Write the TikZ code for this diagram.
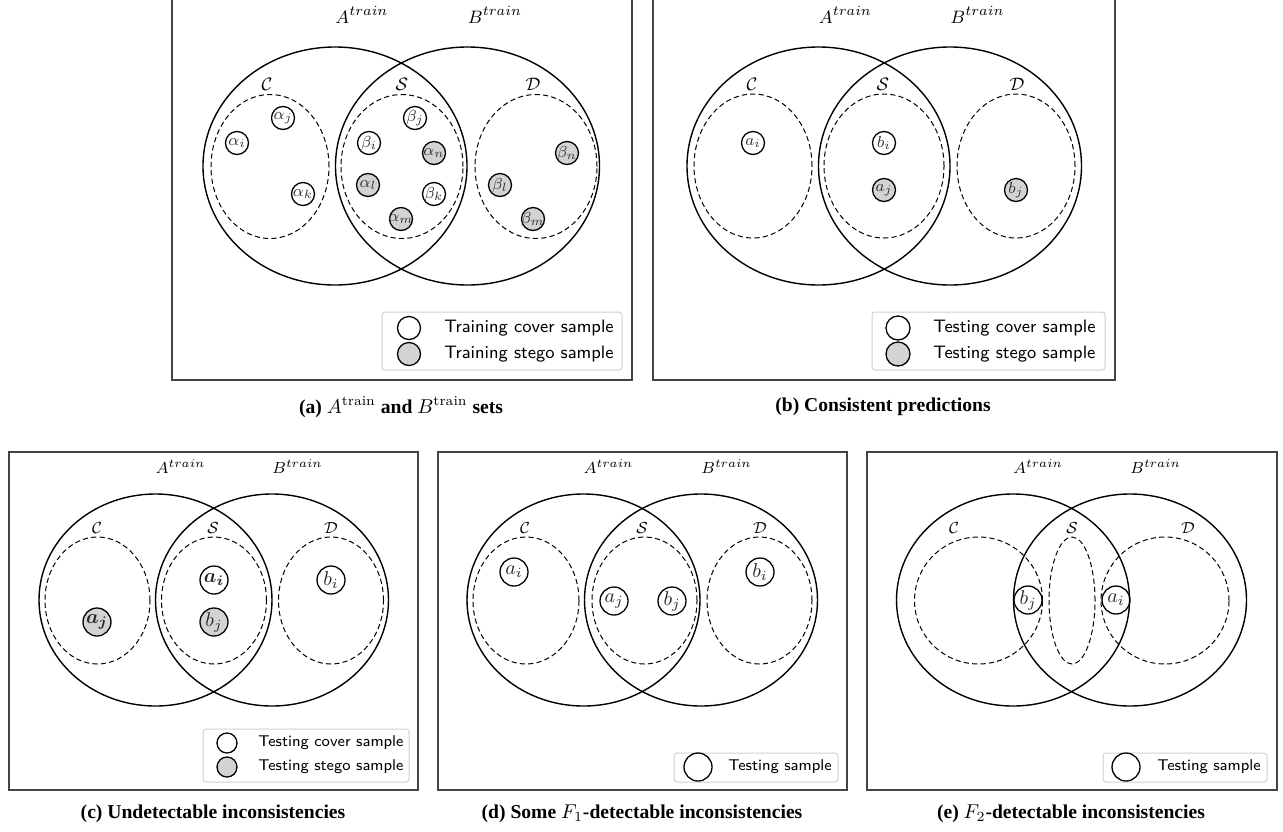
\documentclass[tikz,border=0pt]{standalone}
\usepackage{amsmath}
\usepackage{fontspec}
\newfontfamily\capfont{Liberation Serif}
\definecolor{stegogray}{HTML}{D3D3D3}
\definecolor{legbord}{HTML}{D0D0D0}
\definecolor{framegray}{HTML}{444444}
\begin{document}
\begin{tikzpicture}[x=0.5pt,y=-0.5pt,
  frame/.style={draw=framegray, line width=0.9pt},
  venn/.style={draw=black, line width=0.7pt},
  subset/.style={draw=black, line width=0.5pt, dash pattern=on 2.6pt off 1.6pt},
  samp/.style={circle, draw=black, line width=0.65pt, fill=white, minimum size=11.5pt, inner sep=0pt},
  sampB/.style={samp, minimum size=14pt},
  stego/.style={fill=stegogray},
  tlab/.style={label={[font=\fontsize{8.5}{9}\selectfont, text=black!80, inner sep=0pt]center:#1}},
  blab/.style={label={[font=\fontsize{10}{11}\selectfont, text=black!85, inner sep=0pt]center:#1}},
  setT/.style={font=\fontsize{9.3}{10}\selectfont, inner sep=0pt},
  setB/.style={font=\fontsize{8.3}{9}\selectfont, inner sep=0pt},
  legbox/.style={draw=legbord, line width=0.5pt, rounded corners=1.5pt, fill=white},
  legT/.style={font=\sffamily\fontsize{9.0}{11}\selectfont, anchor=west, inner sep=0pt},
  legB/.style={font=\sffamily\fontsize{7.8}{10}\selectfont, anchor=west, inner sep=0pt},
  legc/.style={circle, draw=black, line width=0.65pt, fill=white, inner sep=0pt},
  captext/.style={font=\capfont\bfseries\fontsize{9.8}{12}\selectfont, inner sep=0pt},
  capsup/.style={}
]
\path[use as bounding box] (0,0) rectangle (1283,831);
\clip (0,0) rectangle (1283,831);

% ================= Panel (a) =================
\draw[frame] (172,-10) rectangle (632,380);
\draw[venn] (335,166) ellipse [x radius=66pt, y radius=59.5pt];
\draw[venn] (467.5,166) ellipse [x radius=66pt, y radius=59.5pt];
\draw[subset] (270,166.5) ellipse [x radius=29.5pt, y radius=36pt];
\draw[subset] (402,166.5) ellipse [x radius=30.5pt, y radius=36pt];
\draw[subset] (536,166.5) ellipse [x radius=30.5pt, y radius=36pt];
\node[setT, anchor=base west] (aA) at (335,23) {$A^{train}$};
\node[setT, anchor=base west] (aB) at (467.5,23) {$B^{train}$};
\node[setT, anchor=base] (aC) at (267,90) {$\mathcal{C}$};
\node[setT, anchor=base] (aS) at (402,90) {$\mathcal{S}$};
\node[setT, anchor=base] (aD) at (533,90) {$\mathcal{D}$};
\node[samp, tlab={$\alpha_i$}] (a1) at (237,143) {};
\node[samp, tlab={$\alpha_j$}] (a2) at (283,118) {};
\node[samp, tlab={$\alpha_k$}] (a3) at (303,194) {};
\node[samp, tlab={$\beta_j$}] (a4) at (415,118) {};
\node[samp, tlab={$\beta_i$}] (a5) at (369,143) {};
\node[samp, stego, tlab={$\alpha_n$}] (a6) at (434,153) {};
\node[samp, stego, tlab={$\alpha_l$}] (a7) at (368,185) {};
\node[samp, tlab={$\beta_k$}] (a8) at (434,194) {};
\node[samp, stego, tlab={$\alpha_m$}] (a9) at (401,219) {};
\node[samp, stego, tlab={$\beta_n$}] (a10) at (567,153) {};
\node[samp, stego, tlab={$\beta_l$}] (a11) at (500,185) {};
\node[samp, stego, tlab={$\beta_m$}] (a12) at (533,219) {};
\draw[legbox] (382,312) rectangle (622,370);
\node[legc, minimum size=11.5pt] (aL1) at (409,328) {};
\node[legc, stego, minimum size=11.5pt] (aL2) at (409,354) {};
\node[legT] (aLt1) at (444,328) {Training cover sample};
\node[legT] (aLt2) at (444,354) {Training stego sample};
\node[captext] (capa) at (401,407) {(a) $A^{\mathrm{train}}$ and $B^{\mathrm{train}}$ sets};

% ================= Panel (b) =================
\draw[frame] (653,-10) rectangle (1115,380);
\draw[venn] (818.5,166) ellipse [x radius=65.75pt, y radius=59.5pt];
\draw[venn] (950,166) ellipse [x radius=65.75pt, y radius=59.5pt];
\draw[subset] (753,166) ellipse [x radius=29.5pt, y radius=36pt];
\draw[subset] (884,166) ellipse [x radius=30pt, y radius=36pt];
\draw[subset] (1016,166) ellipse [x radius=29.5pt, y radius=36pt];
\node[setT, anchor=base west] (bA) at (818.5,23) {$A^{train}$};
\node[setT, anchor=base west] (bB) at (950,23) {$B^{train}$};
\node[setT, anchor=base] (bC) at (752,90) {$\mathcal{C}$};
\node[setT, anchor=base] (bS) at (883,90) {$\mathcal{S}$};
\node[setT, anchor=base] (bD) at (1017,90) {$\mathcal{D}$};
\node[samp, tlab={$a_i$}] (b1) at (753,143) {};
\node[samp, tlab={$b_i$}] (b2) at (884,143) {};
\node[samp, stego, tlab={$a_j$}] (b3) at (884,190) {};
\node[samp, stego, tlab={$b_j$}] (b4) at (1016,190) {};
\draw[legbox] (872,312) rectangle (1105,370);
\node[legc, minimum size=12pt] (bL1) at (898,328) {};
\node[legc, stego, minimum size=12pt] (bL2) at (898,354) {};
\node[legT] (bLt1) at (933,328) {Testing cover sample};
\node[legT] (bLt2) at (933,354) {Testing stego sample};
\node[captext] (capb) at (883,407) {(b) Consistent predictions};

% ================= Panel (c) =================
\draw[frame] (9,452) rectangle (418,790);
\draw[venn] (155.5,600) ellipse [x radius=58.25pt, y radius=53pt];
\draw[venn] (272,600) ellipse [x radius=58.25pt, y radius=53pt];
\draw[subset] (97.5,600.5) ellipse [x radius=26.25pt, y radius=31.75pt];
\draw[subset] (214,600.5) ellipse [x radius=26.25pt, y radius=31.75pt];
\draw[subset] (331,600.5) ellipse [x radius=26.25pt, y radius=31.75pt];
\node[setB, anchor=base west] (cA) at (155.5,473) {$A^{train}$};
\node[setB, anchor=base west] (cB) at (272,473) {$B^{train}$};
\node[setB, anchor=base] (cC) at (97,533) {$\mathcal{C}$};
\node[setB, anchor=base] (cS) at (213,533) {$\mathcal{S}$};
\node[setB, anchor=base] (cD) at (331,533) {$\mathcal{D}$};
\node[sampB, stego, blab={$\boldsymbol{a_j}$}] (c1) at (97,622) {};
\node[sampB, blab={$\boldsymbol{a_i}$}] (c2) at (214,580) {};
\node[sampB, stego, blab={$b_j$}] (c3) at (214,622) {};
\node[sampB, blab={$b_i$}] (c4) at (331,580) {};
\draw[legbox] (203,729) rectangle (409,782);
\node[legc, minimum size=10pt] (cL1) at (227,743) {};
\node[legc, stego, minimum size=10pt] (cL2) at (227,767) {};
\node[legB] (cLt1) at (258,743) {Testing cover sample};
\node[legB] (cLt2) at (258,767) {Testing stego sample};
\node[captext] (capc) at (213,814) {(c) Undetectable inconsistencies};

% ================= Panel (d) =================
\draw[frame] (438,452) rectangle (847,790);
\draw[venn] (583.5,600) ellipse [x radius=58.25pt, y radius=53pt];
\draw[venn] (701,600) ellipse [x radius=58.25pt, y radius=53pt];
\draw[subset] (526,600.5) ellipse [x radius=26.5pt, y radius=31.75pt];
\draw[subset] (644.5,600.5) ellipse [x radius=26.25pt, y radius=31.75pt];
\draw[subset] (759.5,600.5) ellipse [x radius=26.25pt, y radius=31.75pt];
\node[setB, anchor=base west] (dA) at (583.5,473) {$A^{train}$};
\node[setB, anchor=base west] (dB) at (701,473) {$B^{train}$};
\node[setB, anchor=base] (dC) at (525,533) {$\mathcal{C}$};
\node[setB, anchor=base] (dS) at (642,533) {$\mathcal{S}$};
\node[setB, anchor=base] (dD) at (760,533) {$\mathcal{D}$};
\node[sampB, blab={$a_i$}] (d1) at (514,572) {};
\node[sampB, blab={$a_j$}] (d2) at (614,601) {};
\node[sampB, blab={$b_j$}] (d3) at (672,601) {};
\node[sampB, blab={$b_i$}] (d4) at (760,572) {};
\draw[legbox] (674,753) rectangle (838,782);
\node[legc, minimum size=14pt] (dL1) at (698,767) {};
\node[legB] (dLt1) at (728,767) {Testing sample};
\node[captext] (capd) at (642,814) {(d) Some $F_1$-detectable inconsistencies};

% ================= Panel (e) =================
\draw[frame] (867,452) rectangle (1277,790);
\draw[venn] (1013,600) ellipse [x radius=58.25pt, y radius=53pt];
\draw[venn] (1130,600) ellipse [x radius=58.25pt, y radius=53pt];
\draw[subset] (978.5,600.5) ellipse [x radius=32pt, y radius=31.75pt];
\draw[subset] (1072,600.5) ellipse [x radius=11.5pt, y radius=31.75pt];
\draw[subset] (1165,600.5) ellipse [x radius=32pt, y radius=31.75pt];
\node[setB, anchor=base west] (eA) at (1013,473) {$A^{train}$};
\node[setB, anchor=base west] (eB) at (1130,473) {$B^{train}$};
\node[setB, anchor=base] (eC) at (954,533) {$\mathcal{C}$};
\node[setB, anchor=base] (eS) at (1072,533) {$\mathcal{S}$};
\node[setB, anchor=base] (eD) at (1188,533) {$\mathcal{D}$};
\node[sampB, fill=none, blab={$b_j$}] (e1) at (1028,600) {};
\node[sampB, fill=none, blab={$a_i$}] (e2) at (1116,600) {};
\draw[legbox] (1103,753) rectangle (1267,782);
\node[legc, minimum size=14pt] (eL1) at (1126,767) {};
\node[legB] (eLt1) at (1157,767) {Testing sample};
\node[captext] (cape) at (1071,814) {(e) $F_2$-detectable inconsistencies};
\end{tikzpicture}
\end{document}
